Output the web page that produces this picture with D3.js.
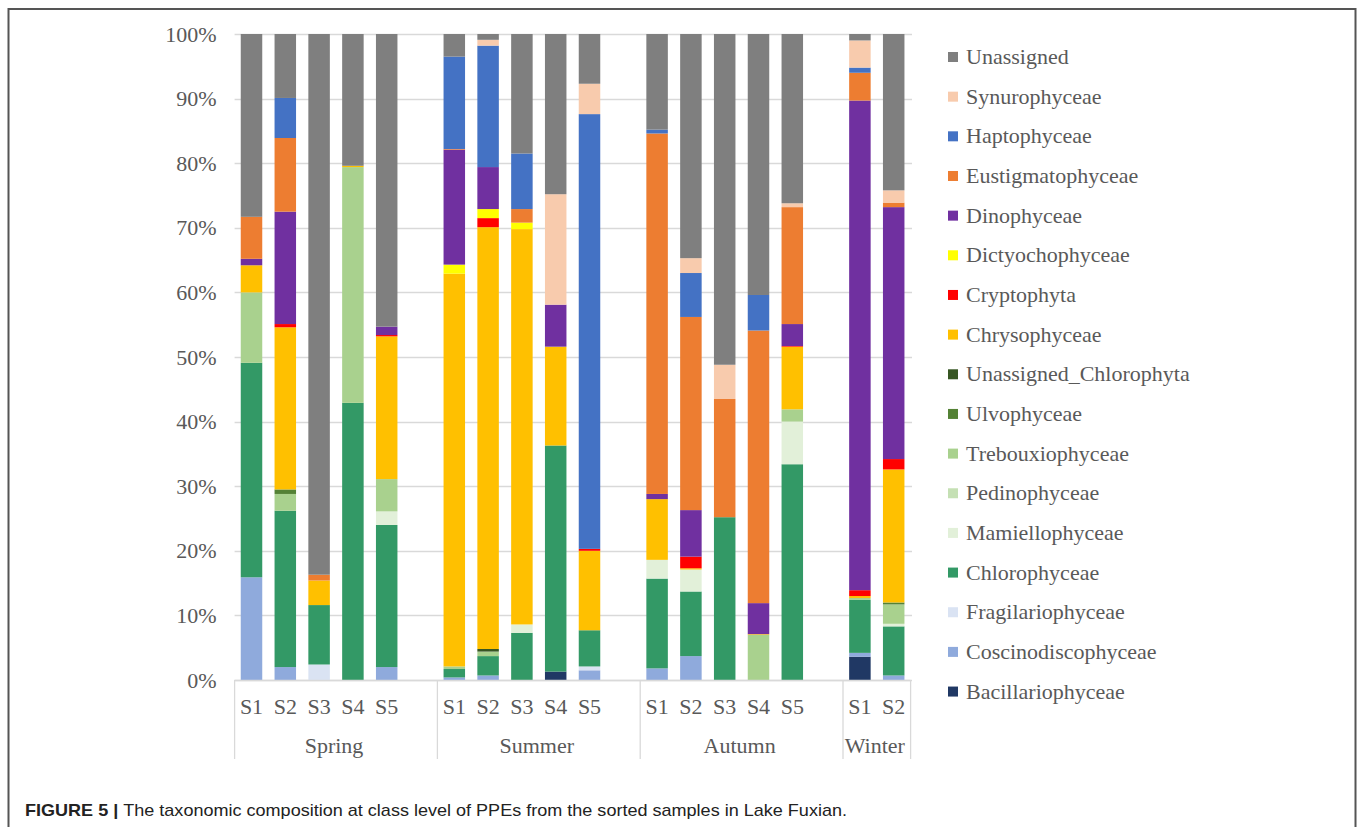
<!DOCTYPE html>
<html lang="en">
<head>
    <meta charset="UTF-8">
    <title>Figure 5</title>
    <script src="https://d3js.org/d3.v7.min.js"></script>
    <style>
        body { margin: 0; background: #fff; }
        svg { display: block; }
    </style>
</head>
<body>
<script>

    // samples, in the order they stand on the axis
    var seasons = ["Spring", "Summer", "Autumn", "Winter"];
    var seasonSamples = [
        ["S1", "S2", "S3", "S4", "S5"],
        ["S1", "S2", "S3", "S4", "S5"],
        ["S1", "S2", "S3", "S4", "S5"],
        ["S1", "S2"]
    ];

    // classes, bottom of the stack first
    var classes = ["Bacillariophyceae", "Coscinodiscophyceae", "Fragilariophyceae", "Chlorophyceae",
        "Mamiellophyceae", "Pedinophyceae", "Trebouxiophyceae", "Ulvophyceae", "Unassigned_Chlorophyta",
        "Chrysophyceae", "Cryptophyta", "Dictyochophyceae", "Dinophyceae", "Eustigmatophyceae",
        "Haptophyceae", "Synurophyceae", "Unassigned"];
    var classColors = ["#203864", "#8FAADC", "#DAE3F3", "#339966",
        "#E2F0D9", "#C5E0B4", "#A9D18E", "#548235", "#375623",
        "#FFC000", "#FF0000", "#FFFF00", "#7030A0", "#ED7D31",
        "#4472C4", "#F8CBAD", "#7F7F7F"];

    // percent per sample (Spring S1-S5, Summer S1-S5, Autumn S1-S5, Winter S1-S2)
    var bacillariophyceae      = [0, 0, 0, 0, 0,        0, 0, 0, 1.3, 0,          0, 0, 0, 0, 0,            3.6, 0];
    var coscinodiscophyceae    = [15.9, 2.0, 0, 0, 2.0, 0.4, 0.7, 0, 0, 1.5,      1.8, 3.7, 0, 0, 0,        0.6, 0.7];
    var fragilariophyceae      = [0, 0, 2.4, 0, 0,      0, 0, 0, 0, 0.6,          0, 0, 0, 0, 0,            0, 0];
    var chlorophyceae          = [33.2, 24.2, 9.2, 42.9, 22.0, 1.3, 3.0, 7.3, 35.0, 5.6, 13.9, 10.0, 25.2, 0, 33.4, 8.2, 7.6];
    var mamiellophyceae        = [0, 0, 0, 0, 2.1,      0, 0, 1.3, 0, 0,          2.9, 3.4, 0, 0, 6.6,      0, 0.4];
    var pedinophyceae          = [0, 0, 0, 0, 0,        0, 0, 0, 0, 0,            0, 0, 0, 0, 0,            0, 0];
    var trebouxiophyceae       = [10.9, 2.6, 0, 36.5, 5.0, 0.4, 0.7, 0, 0, 0,     0, 0, 0, 7.0, 1.9,        0.3, 3.0];
    var ulvophyceae            = [0, 0.7, 0, 0, 0,      0, 0, 0, 0, 0,            0, 0, 0, 0, 0,            0, 0.3];
    var unassignedChlorophyta  = [0, 0, 0, 0, 0,        0, 0.4, 0, 0, 0,          0, 0, 0, 0, 0,            0, 0];
    var chrysophyceae          = [4.2, 25.1, 3.8, 0.2, 22.1, 60.8, 65.3, 61.2, 15.3, 12.3, 9.4, 0.2, 0, 0.1, 9.7, 0.3, 20.6];
    var cryptophyta            = [0, 0.5, 0, 0, 0.2,    0, 1.4, 0, 0, 0.3,        0, 1.8, 0, 0, 0.1,        0.9, 1.6];
    var dictyochophyceae       = [0, 0, 0, 0, 0,        1.4, 1.4, 1.0, 0, 0,      0, 0, 0, 0, 0,            0, 0];
    var dinophyceae            = [1.0, 17.4, 0, 0, 1.3, 17.8, 6.5, 0, 6.5, 0,     0.8, 7.2, 0, 4.8, 3.4,    75.8, 39.0];
    var eustigmatophyceae      = [6.5, 11.4, 0.9, 0, 0, 0.1, 0, 2.1, 0, 0,        55.8, 29.9, 18.3, 42.2, 18.1, 4.3, 0.7];
    var haptophyceae           = [0, 6.2, 0, 0, 0,      14.3, 18.8, 8.6, 0, 67.3, 0.6, 6.8, 0, 5.5, 0,      0.8, 0];
    var synurophyceae          = [0, 0, 0, 0, 0,        0, 0.9, 0, 17.1, 4.7,     0, 2.3, 5.3, 0, 0.6,      4.2, 1.9];
    var unassigned             = [28.3, 9.9, 83.7, 20.4, 45.3, 3.5, 0.9, 18.5, 24.8, 7.7, 14.8, 34.7, 51.2, 40.4, 26.2, 1.0, 24.2];

    var classValues = [bacillariophyceae, coscinodiscophyceae, fragilariophyceae, chlorophyceae,
        mamiellophyceae, pedinophyceae, trebouxiophyceae, ulvophyceae, unassignedChlorophyta,
        chrysophyceae, cryptophyta, dictyochophyceae, dinophyceae, eustigmatophyceae,
        haptophyceae, synurophyceae, unassigned];

    var yTicks = [0, 0.1, 0.2, 0.3, 0.4, 0.5, 0.6, 0.7, 0.8, 0.9, 1];

    // ------------------------------------------------- //
    var width = 1360;
    var height = 827;
    var textGrey = "#595959";
    var serif = "'Liberation Serif', 'Times New Roman', serif";

    var svg = d3.select("body").append("svg")
        .attr("width", width)
        .attr("height", height);

    // figure frame
    svg.append("rect")
        .attr("x", 8.5).attr("y", 9)
        .attr("width", 1347).attr("height", 840)
        .attr("fill", "none")
        .attr("stroke", "#555")
        .attr("stroke-width", 2);

    // one slot per sample, one blank slot after every season but the last
    var slots = [];
    var rows = [];
    seasons.forEach(function (s, gi) {
        seasonSamples[gi].forEach(function (name) {
            var key = s + "|" + name;
            slots.push(key);
            rows.push({key: key, season: s, sample: name});
        });
        if (gi < seasons.length - 1) slots.push("gap" + gi);
    });
    rows.forEach(function (r, i) {
        classes.forEach(function (c, ci) { r[c] = classValues[ci][i] / 100; });
    });

    var xScale = d3.scaleBand()
        .domain(slots)
        .range([234.6, 910.6])
        .paddingInner(0.364)
        .paddingOuter(0.182);
    var yScale = d3.scaleLinear()
        .domain([0, 1])
        .range([680, 34]);

    // gridlines
    svg.append("g")
        .selectAll("line")
        .data(yTicks)
        .join("line")
        .attr("x1", 234.6).attr("x2", 912)
        .attr("y1", function (d) { return Math.round(yScale(d)) + 0.5; })
        .attr("y2", function (d) { return Math.round(yScale(d)) + 0.5; })
        .attr("stroke", "#D9D9D9")
        .attr("stroke-width", 1.3);

    var yAxis = d3.axisLeft(yScale)
        .tickValues(yTicks)
        .tickFormat(d3.format(".0%"))
        .tickSize(0)
        .tickPadding(18);
    var gy = svg.append("g")
        .attr("transform", "translate(234.6,0)")
        .call(yAxis);
    gy.select(".domain").remove();
    gy.selectAll("text")
        .attr("fill", textGrey)
        .attr("font-family", serif)
        .attr("font-size", "22px");

    // stacked bars
    var stack = d3.stack().keys(classes);
    var series = stack(rows);

    svg.append("g")
        .selectAll("g")
        .data(series)
        .join("g")
        .attr("fill", function (d, i) { return classColors[i]; })
        .selectAll("rect")
        .data(function (d) { return d; })
        .join("rect")
        .attr("x", function (d) { return xScale(d.data.key); })
        .attr("width", xScale.bandwidth())
        .attr("y", function (d) { return yScale(d[1]); })
        .attr("height", function (d) { return yScale(d[0]) - yScale(d[1]); });

    // category axis
    var axisG = svg.append("g");
    axisG.append("line")
        .attr("x1", 234.6).attr("x2", 910.6)
        .attr("y1", 680.5).attr("y2", 680.5)
        .attr("stroke", "#D9D9D9").attr("stroke-width", 1.3);

    var step = xScale.step();
    var bounds = [];
    var start = 234.6;
    seasons.forEach(function (s, gi) {
        var n = seasonSamples[gi].length + (gi < seasons.length - 1 ? 1 : 0);
        bounds.push({season: s, x0: start, x1: start + n * step});
        start += n * step;
    });

    axisG.selectAll("line.sep")
        .data([bounds[0].x0].concat(bounds.map(function (b) { return b.x1; })))
        .join("line")
        .attr("class", "sep")
        .attr("x1", function (d) { return d; })
        .attr("x2", function (d) { return d; })
        .attr("y1", 680).attr("y2", 759)
        .attr("stroke", "#D9D9D9").attr("stroke-width", 1.3);

    axisG.selectAll("text.sample")
        .data(rows)
        .join("text")
        .attr("class", "sample")
        .attr("x", function (d) { return xScale(d.key) + xScale.bandwidth() / 2; })
        .attr("y", 714)
        .attr("text-anchor", "middle")
        .attr("fill", textGrey)
        .attr("font-family", serif)
        .attr("font-size", "22px")
        .text(function (d) { return d.sample; });

    axisG.selectAll("text.season")
        .data(bounds)
        .join("text")
        .attr("class", "season")
        .attr("x", function (d) { return (d.x0 + d.x1) / 2 - 2; })
        .attr("y", 753)
        .attr("text-anchor", "middle")
        .attr("fill", textGrey)
        .attr("font-family", serif)
        .attr("font-size", "22px")
        .text(function (d) { return d.season; });

    // legend, top entry is the top of the stack
    var legendClasses = classes.slice().reverse();
    var legendColors = classColors.slice().reverse();
    var legend = svg.append("g")
        .selectAll("g")
        .data(legendClasses)
        .join("g")
        .attr("transform", function (d, i) { return "translate(948," + (57 + i * 39.66) + ")"; });
    legend.append("rect")
        .attr("x", 0).attr("y", -5)
        .attr("width", 10).attr("height", 10)
        .attr("fill", function (d, i) { return legendColors[i]; });
    legend.append("text")
        .attr("x", 18)
        .attr("y", 7)
        .attr("fill", textGrey)
        .attr("font-family", serif)
        .attr("font-size", "22px")
        .text(function (d) { return d; });

    // caption
    var caption = svg.append("text")
        .attr("x", 25)
        .attr("y", 815.5)
        .attr("font-family", "'Liberation Sans', Arial, sans-serif")
        .attr("font-size", "17px")
        .attr("fill", "#222")
        .attr("textLength", 822)
        .attr("lengthAdjust", "spacingAndGlyphs");
    caption.append("tspan")
        .attr("font-weight", "bold")
        .text("FIGURE 5 | ");
    caption.append("tspan")
        .text("The taxonomic composition at class level of PPEs from the sorted samples in Lake Fuxian.");

</script>
</body>
</html>
